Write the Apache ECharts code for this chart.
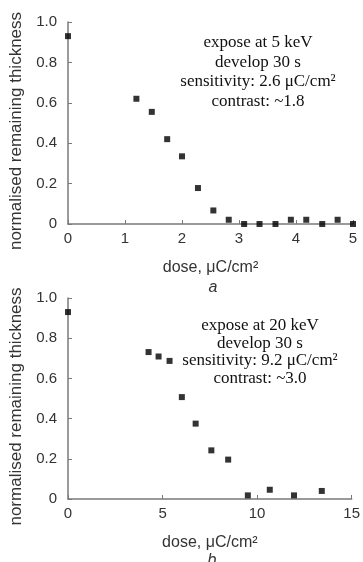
<!DOCTYPE html>
<html>
<head>
<meta charset="utf-8">
<script src="https://cdn.jsdelivr.net/npm/echarts@6/dist/echarts.min.js"></script>
<style>
html,body{margin:0;padding:0;background:#fff;}
#c{width:363px;height:562px;}
</style>
</head>
<body>
<div id="c"></div>
<script>
// Panel a: expose at 5 keV
const doseA = [0, 1.2, 1.47, 1.74, 2.0, 2.28, 2.55, 2.82, 3.09, 3.36, 3.64, 3.91, 4.18, 4.46, 4.73, 5.0];
const thickA = [0.93, 0.62, 0.555, 0.42, 0.335, 0.178, 0.067, 0.021, 0, 0, 0, 0.021, 0.021, 0, 0.021, 0];
// Panel b: expose at 20 keV
const doseB = [0, 4.26, 4.79, 5.37, 6.02, 6.75, 7.58, 8.47, 9.51, 10.67, 11.95, 13.42];
const thickB = [0.93, 0.731, 0.709, 0.687, 0.507, 0.375, 0.242, 0.196, 0.018, 0.046, 0.018, 0.04];
// Axis labels and annotations
const yName = 'normalised remaining thickness';
const xName = 'dose, μC/cm²';
const notesA = ['expose at 5 keV', 'develop 30 s', 'sensitivity: 2.6 μC/cm²', 'contrast: ~1.8'];
const notesB = ['expose at 20 keV', 'develop 30 s', 'sensitivity: 9.2 μC/cm²', 'contrast: ~3.0'];
const panelLabels = ['a', 'b'];

const axisColor = '#7a7a7a';
const labelColor = '#333';
const sans = 'Liberation Sans, Arial, sans-serif';
const serif = 'Liberation Serif, Times New Roman, serif';

function xAxis(gi, max, interval) {
  return {
    type: 'value', gridIndex: gi, min: 0, max: max, interval: interval,
    name: xName, nameLocation: 'middle', nameGap: 36,
    nameTextStyle: {fontFamily: sans, fontSize: 16, color: labelColor},
    axisLine: {show: true, lineStyle: {color: axisColor, width: 1.5}},
    axisTick: {show: true, inside: true, length: 4, lineStyle: {color: axisColor}},
    axisLabel: {fontFamily: sans, fontSize: 15, color: labelColor, margin: 7},
    splitLine: {show: false}
  };
}
function yAxis(gi) {
  return {
    type: 'value', gridIndex: gi, min: 0, max: 1, interval: 0.2,
    name: yName, nameLocation: 'middle', nameGap: 41, nameRotate: 90,
    nameTextStyle: {fontFamily: sans, fontSize: 17, color: labelColor, padding: [0, 16, 0, 0]},
    axisLine: {show: true, lineStyle: {color: axisColor, width: 1.5}},
    axisTick: {show: true, inside: true, length: 4, lineStyle: {color: axisColor}},
    axisLabel: {fontFamily: sans, fontSize: 15, color: labelColor, margin: 11,
      formatter: v => v === 0 ? '0' : v.toFixed(1)},
    splitLine: {show: false}
  };
}
function notes(lines, cx, y0, step) {
  return lines.map((t, i) => ({
    type: 'text',
    x: cx, y: y0 + i * step,
    style: {text: t, fontFamily: serif, fontSize: 17, fill: '#111', align: 'center', verticalAlign: 'middle'}
  }));
}

const chart = echarts.init(document.getElementById('c'), null, {renderer: 'canvas'});
chart.setOption({
  animation: false,
  backgroundColor: '#fff',
  grid: [
    {left: 68, top: 22, width: 285, height: 202},
    {left: 68, top: 298, width: 285, height: 201}
  ],
  xAxis: [xAxis(0, 5, 1), xAxis(1, 15, 5)],
  yAxis: [yAxis(0), yAxis(1)],
  series: [
    {type: 'scatter', xAxisIndex: 0, yAxisIndex: 0, symbol: 'rect', symbolSize: 6,
      itemStyle: {color: '#000'}, data: doseA.map((d, i) => [d, thickA[i]])},
    {type: 'scatter', xAxisIndex: 1, yAxisIndex: 1, symbol: 'rect', symbolSize: 6,
      itemStyle: {color: '#000'}, data: doseB.map((d, i) => [d, thickB[i]])}
  ],
  graphic: [].concat(
    notes(notesA, 258, 43, 19.5),
    notes(notesB, 260, 326, 17.5),
    [
      {type: 'text', x: 213, y: 288, style: {text: panelLabels[0], fontFamily: sans, fontStyle: 'italic', fontSize: 16, fill: labelColor, align: 'center', verticalAlign: 'middle'}},
      {type: 'text', x: 212, y: 561, style: {text: panelLabels[1], fontFamily: sans, fontStyle: 'italic', fontSize: 16, fill: labelColor, align: 'center', verticalAlign: 'middle'}}
    ]
  )
});
</script>
</body>
</html>
